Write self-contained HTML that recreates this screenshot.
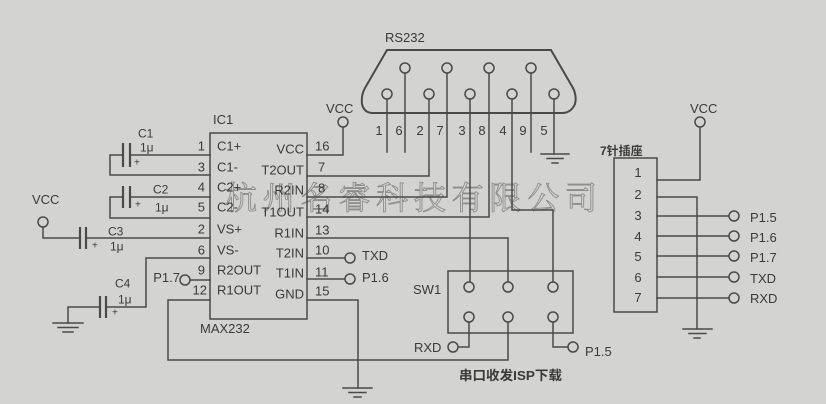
<!DOCTYPE html>
<html><head><meta charset="utf-8"><style>
html,body{margin:0;padding:0;background:#d3d3d1;}
svg{display:block;}
text{font-family:"Liberation Sans","Noto Sans CJK SC",sans-serif;fill:#3a3a3a;}
</style></head><body>
<svg width="826" height="404" viewBox="0 0 826 404" xmlns="http://www.w3.org/2000/svg">
<rect x="0" y="0" width="826" height="404" fill="#d3d3d1"/>

<!-- watermark -->
<text x="225" y="209" font-size="32" textLength="372" lengthAdjust="spacing" style="font-family:'Noto Serif CJK SC','Noto Sans CJK SC',serif;fill:none;stroke:#8e8e8e;stroke-width:0.9">杭州名睿科技有限公司</text>

<g stroke="#4a4a4a" stroke-width="1.5" fill="none" stroke-linecap="square">
<!-- IC box -->
<rect x="210" y="133" width="97" height="186"/>
<!-- left side: C1 -->
<path d="M210 155 H130 M123 155 H110 V175 H210"/>
<!-- C2 -->
<path d="M210 197 H130 M123 197 H110 V218 H210"/>
<!-- C3 -->
<path d="M43 227 V238 H80 M86 238 H210"/>
<!-- C4 -->
<path d="M210 258 H146 V307 H106 M100 307 H68 V323"/>
<!-- ground left -->
<path d="M53 323 H83 M58 327.5 H78 M63 332 H73"/>
<!-- P1.7 -->
<path d="M190 280 H210"/>
<!-- R1OUT -->
<path d="M210 300 H168 V360 H508 V322"/>
<!-- GND -->
<path d="M307 300 H358 V388"/>
<path d="M343 388 H372 M349 392.5 H366 M354 397 H361"/>
<!-- VCC pin16 -->
<path d="M307 155 H343 V127"/>
<!-- T2OUT -> RS232 pin2 -->
<path d="M307 176 H429 V99"/>
<!-- R2IN -> pin7 -->
<path d="M307 197 H447 V73"/>
<!-- T1OUT -> pin8 -->
<path d="M307 217 H489 V73"/>
<!-- R1IN -> SW1 middle -->
<path d="M307 238 H508 V282"/>
<!-- T2IN / T1IN -->
<path d="M307 258 H345 M307 279 H345"/>
<!-- RS232 pin lines -->
<path d="M387 99 V152 M405 73 V152 M531 73 V152"/>
<path d="M470 99 V282"/>
<path d="M512 99 V210 H553 V282"/>
<path d="M554 99 V154"/>
<path d="M541 154 H569 M547 158.5 H563 M552 163 H558"/>
<!-- SW1 -->
<rect x="448" y="271" width="125" height="62"/>
<path d="M469 322 V347 H458"/>
<path d="M553 322 V347 H568"/>
<!-- 7 pin header -->
<rect x="614" y="158" width="43" height="154"/>
<path d="M657 180 H700 V127"/>
<path d="M657 197 H697 V329"/>
<path d="M683 329 H712 M689 333.5 H706 M694 338 H700"/>
<path d="M657 216 H729 M657 236 H729 M657 256 H729 M657 277 H729 M657 298 H729"/>
</g>

<!-- capacitor plates -->
<g stroke="#4a4a4a" stroke-width="2.2" fill="none">
<path d="M123 143 V167 M130 143 V167"/>
<path d="M123 186 V208 M130 186 V208"/>
<path d="M80 227 V249 M86 227 V249"/>
<path d="M100 296 V318 M106 296 V318"/>
</g>

<!-- RS232 outline -->
<path d="M387 50 L551 50 L573 88 Q577 96 575 104 Q571 113 562 113 L373 113 Q364 113 362 104 Q361 95 365 88 Z" stroke="#4a4a4a" stroke-width="2" fill="none"/>

<!-- circles -->
<g stroke="#4a4a4a" stroke-width="1.5" fill="#d3d3d1">
<circle cx="405" cy="68" r="5"/><circle cx="447" cy="68" r="5"/><circle cx="489" cy="68" r="5"/><circle cx="531" cy="68" r="5"/>
<circle cx="387" cy="94" r="5"/><circle cx="429" cy="94" r="5"/><circle cx="470" cy="94" r="5"/><circle cx="512" cy="94" r="5"/><circle cx="554" cy="94" r="5"/>
<circle cx="43" cy="222" r="5"/>
<circle cx="343" cy="122" r="5"/>
<circle cx="700" cy="122" r="5"/>
<circle cx="185" cy="280" r="5"/>
<circle cx="350" cy="258" r="5"/><circle cx="350" cy="279" r="5"/>
<circle cx="469" cy="287" r="5"/><circle cx="508" cy="287" r="5"/><circle cx="553" cy="287" r="5"/>
<circle cx="469" cy="317" r="5"/><circle cx="508" cy="317" r="5"/><circle cx="553" cy="317" r="5"/>
<circle cx="453" cy="347" r="5"/><circle cx="573" cy="347" r="5"/>
<circle cx="734" cy="216" r="5"/><circle cx="734" cy="236" r="5"/><circle cx="734" cy="256" r="5"/><circle cx="734" cy="277" r="5"/><circle cx="734" cy="298" r="5"/>
</g>

<!-- labels -->
<g font-size="13">
<text x="385" y="42">RS232</text>
<text x="213" y="124">IC1</text>
<text x="200" y="333">MAX232</text>
<text x="326" y="113">VCC</text>
<text x="32" y="204">VCC</text>
<text x="690" y="113">VCC</text>

<!-- left pin numbers -->
<g text-anchor="end">
<text x="205" y="150.5">1</text>
<text x="205" y="171.5">3</text>
<text x="205" y="191.5">4</text>
<text x="205" y="211.5">5</text>
<text x="205" y="233.5">2</text>
<text x="205" y="254.5">6</text>
<text x="205" y="274.5">9</text>
<text x="207" y="294.5">12</text>
</g>
<!-- left pin names -->
<text x="217" y="150.5">C1+</text>
<text x="217" y="171.5">C1-</text>
<text x="217" y="191.5">C2+</text>
<text x="217" y="211.5">C2-</text>
<text x="217" y="233.5">VS+</text>
<text x="217" y="254.5">VS-</text>
<text x="217" y="274.5">R2OUT</text>
<text x="217" y="294.5">R1OUT</text>
<!-- right pin names -->
<g text-anchor="end">
<text x="304" y="153.5">VCC</text>
<text x="304" y="174.5">T2OUT</text>
<text x="304" y="194.5">R2IN</text>
<text x="304" y="216.5">T1OUT</text>
<text x="304" y="237.5">R1IN</text>
<text x="304" y="257.5">T2IN</text>
<text x="304" y="277.5">T1IN</text>
<text x="304" y="298.5">GND</text>
</g>
<!-- right pin numbers -->
<text x="315" y="150.5">16</text>
<text x="318" y="171.5">7</text>
<text x="318" y="192.5">8</text>
<text x="315" y="213.5">14</text>
<text x="315" y="234.5">13</text>
<text x="315" y="254.5">10</text>
<text x="315" y="276.5">11</text>
<text x="315" y="295.5">15</text>

<text x="362" y="260">TXD</text>
<text x="362" y="282">P1.6</text>
<text x="180" y="282" text-anchor="end">P1.7</text>

<text x="413" y="294">SW1</text>
<text x="414" y="352">RXD</text>
<text x="585" y="356">P1.5</text>

<!-- RS232 pin numbers -->
<text x="379" y="135" text-anchor="middle">1</text>
<text x="399" y="135" text-anchor="middle">6</text>
<text x="420" y="135" text-anchor="middle">2</text>
<text x="440" y="135" text-anchor="middle">7</text>
<text x="462" y="135" text-anchor="middle">3</text>
<text x="482" y="135" text-anchor="middle">8</text>
<text x="503" y="135" text-anchor="middle">4</text>
<text x="523" y="135" text-anchor="middle">9</text>
<text x="544" y="135" text-anchor="middle">5</text>

<!-- header pins -->
<g text-anchor="middle">
<text x="638" y="177">1</text>
<text x="638" y="199">2</text>
<text x="638" y="220">3</text>
<text x="638" y="241">4</text>
<text x="638" y="261">5</text>
<text x="638" y="282">6</text>
<text x="638" y="302">7</text>
</g>
<text x="750" y="222">P1.5</text>
<text x="750" y="242">P1.6</text>
<text x="750" y="262">P1.7</text>
<text x="750" y="283">TXD</text>
<text x="750" y="303">RXD</text>
</g>

<g font-size="12">
<text x="138" y="137.5">C1</text>
<text x="140" y="151.5">1μ</text>
<text x="153" y="193.5">C2</text>
<text x="155" y="211.5">1μ</text>
<text x="108" y="235.5">C3</text>
<text x="110" y="250.5">1μ</text>
<text x="115" y="287.5">C4</text>
<text x="118" y="303.5">1μ</text>
<text x="600" y="155" font-weight="bold">7针插座</text>
<text x="459" y="380" textLength="103" lengthAdjust="spacingAndGlyphs" font-size="13" font-weight="bold">串口收发ISP下载</text>
</g>
<g font-size="10">
<text x="134" y="165.5">+</text>
<text x="135" y="207.5">+</text>
<text x="92" y="248.5">+</text>
<text x="112" y="315.5">+</text>
</g>
</svg>
</body></html>
